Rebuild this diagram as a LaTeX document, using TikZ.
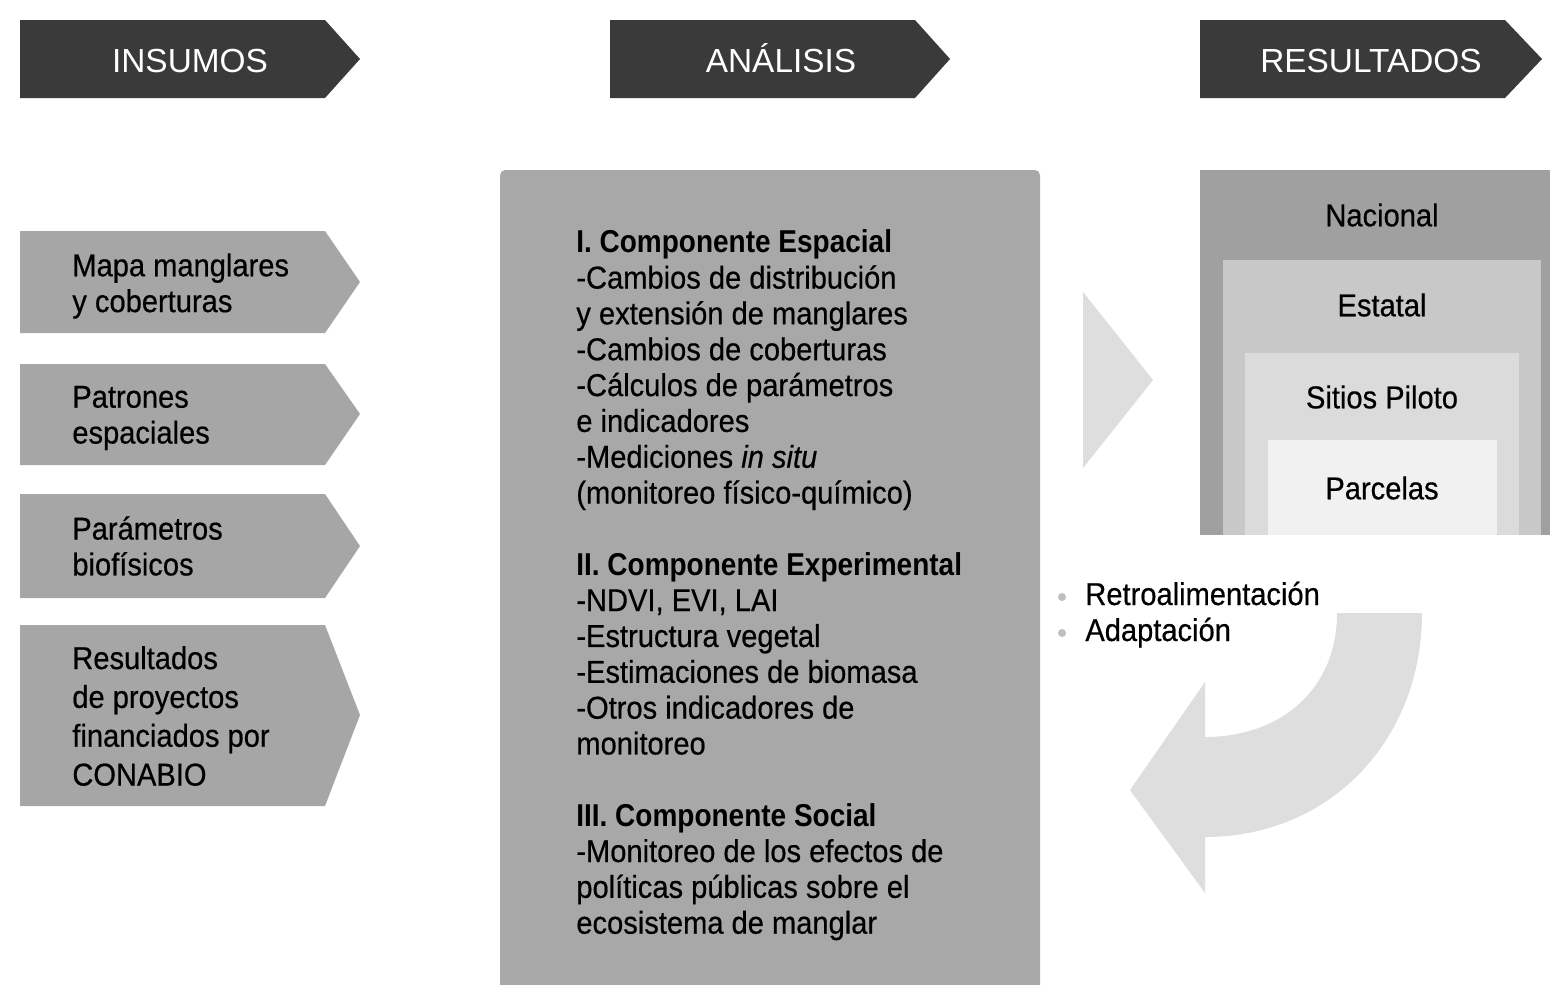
\documentclass[tikz,border=0pt]{standalone}
\usepackage{fontspec}
\setmainfont{Liberation Sans}
\newfontfamily\narrowfont[FakeStretch=0.92, FakeBold=0.5]{Liberation Sans}
\newfontfamily\narrowheads[FakeStretch=0.885]{Liberation Sans}
\usepackage{tikz}
\definecolor{headdark}{RGB}{58, 58, 58}
\definecolor{arrowgray}{RGB}{166, 166, 166}
\definecolor{midgray}{RGB}{168, 168, 168}
\definecolor{nacgray}{RGB}{160, 160, 160}
\definecolor{estgray}{RGB}{200, 200, 200}
\definecolor{sitgray}{RGB}{219, 219, 219}
\definecolor{pargray}{RGB}{241, 241, 241}
\definecolor{ghostgray}{RGB}{222, 222, 222}
\definecolor{bulletgray}{RGB}{190, 190, 190}

\begin{document}
\begin{tikzpicture}[x=0.02cm, y=-0.02cm,
    headlabel/.style={text=white, font=\fontsize{19}{23}\selectfont, inner sep=0pt, anchor=base},
    bodytext/.style={font=\narrowfont\fontsize{18}{20.4}\selectfont, align=left, inner sep=0pt, anchor=west},
    levellabel/.style={font=\narrowfont\fontsize{18}{20.4}\selectfont, inner sep=0pt},
    bulletdot/.style={circle, fill=bulletgray, inner sep=0pt, minimum size=0.16cm}]
        \useasboundingbox (0,0) rectangle (1550,984);
        \fill[white] (0,0) rectangle (1550,984);

        % encabezados
        \fill[headdark] (20,20) -- (325,20) -- (360,59) -- (325,98) -- (20,98) -- cycle;
        \fill[headdark] (610,20) -- (915,20) -- (950,59) -- (915,98) -- (610,98) -- cycle;
        \fill[headdark] (1200,20) -- (1505,20) -- (1542,59) -- (1505,98) -- (1200,98) -- cycle;
        \node[headlabel] (insumos) at (190,72) {INSUMOS};
        \node[headlabel] (analisis) at (781,72) {ANÁLISIS};
        \node[headlabel] (resultados) at (1371,72) {RESULTADOS};

        % insumos
        \fill[arrowgray] (20,231) -- (325,231) -- (360,282) -- (325,333) -- (20,333) -- cycle;
        \fill[arrowgray] (20,364) -- (325,364) -- (360,414) -- (325,465) -- (20,465) -- cycle;
        \fill[arrowgray] (20,494) -- (325,494) -- (360,546) -- (325,598) -- (20,598) -- cycle;
        \fill[arrowgray] (20,625) -- (325,625) -- (360,715) -- (325,806) -- (20,806) -- cycle;
        \node[bodytext] (mapa) at (72,286) {Mapa manglares\\y coberturas};
        \node[bodytext] (patrones) at (72,418) {Patrones\\espaciales};
        \node[bodytext] (parametros) at (72,546) {Parámetros\\biofísicos};
        \node[bodytext, font=\narrowfont\fontsize{18}{22.1}\selectfont] (proyectos) at (72,716)
            {Resultados\\de proyectos\\financiados por\\CONABIO};

        % analisis
        \fill[midgray, rounded corners=3pt] (500,170) rectangle (1040,1010);
        \node[bodytext] (componentes) at (576,585) {%
            {\narrowheads\bfseries I. Componente Espacial}\\
            -Cambios de distribución\\
            y extensión de manglares\\
            -Cambios de coberturas\\
            -Cálculos de parámetros\\
            e indicadores\\
            -Mediciones \textit{in situ}\\
            (monitoreo físico-químico)\\[20.4pt]
            {\narrowheads\bfseries II. Componente Experimental}\\
            -NDVI, EVI, LAI\\
            -Estructura vegetal\\
            -Estimaciones de biomasa\\
            -Otros indicadores de\\
            monitoreo\\[20.4pt]
            {\narrowheads\bfseries III. Componente Social}\\
            -Monitoreo de los efectos de\\
            políticas públicas sobre el\\
            ecosistema de manglar};

        % flecha hacia resultados
        \fill[ghostgray] (1083,292) -- (1153,380) -- (1083,468) -- cycle;

        % niveles
        \fill[nacgray] (1200,170) rectangle (1560,535);
        \fill[estgray] (1223,260) rectangle (1541,535);
        \fill[sitgray] (1245,353) rectangle (1519,535);
        \fill[pargray] (1268,440) rectangle (1497,535);
        \node[levellabel] (nacional) at (1382,215) {Nacional};
        \node[levellabel] (estatal) at (1382,305) {Estatal};
        \node[levellabel] (sitios) at (1382,397) {Sitios Piloto};
        \node[levellabel] (parcelas) at (1382,488) {Parcelas};

        % retroalimentacion
        \fill[ghostgray] (1337,613) -- (1422,613) .. controls (1422,740) and (1330,837) .. (1205,837)
            -- (1205,893) -- (1130,790) -- (1205,682) -- (1205,737)
            .. controls (1280,737) and (1337,690) .. (1337,613) -- cycle;
        \node[bulletdot] (dot1) at (1062,597) {};
        \node[bulletdot] (dot2) at (1062,633) {};
        \node[levellabel, anchor=base west] (retro) at (1085,605) {Retroalimentación};
        \node[levellabel, anchor=base west] (adapt) at (1085,641) {Adaptación};

    \end{tikzpicture}
\end{document}
